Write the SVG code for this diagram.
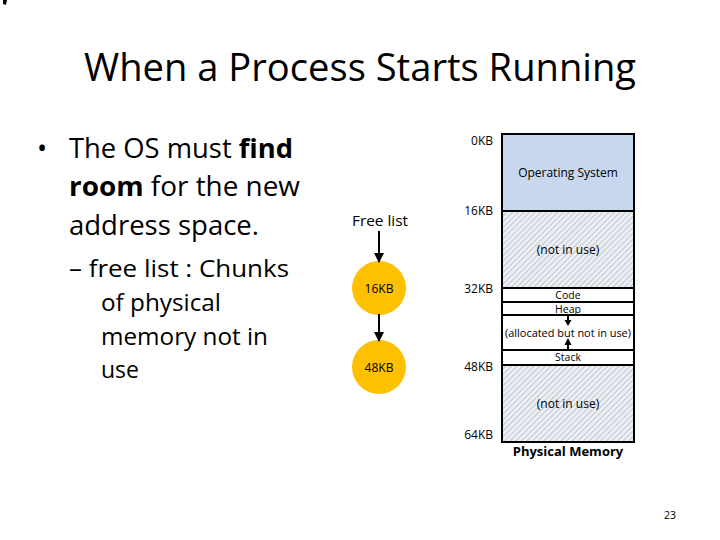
<svg xmlns="http://www.w3.org/2000/svg" width="720" height="540" viewBox="0 0 720 540">
<defs>
<pattern id="hatch" patternUnits="userSpaceOnUse" width="4" height="4" patternTransform="rotate(45)">
<rect width="4" height="4" fill="#eceff3"/>
<line x1="0" y1="0" x2="0" y2="4" stroke="#a9b2bc" stroke-width="1.3"/>
</pattern>
<marker id="ah" markerWidth="10" markerHeight="10" refX="9" refY="5" orient="auto" markerUnits="userSpaceOnUse" viewBox="0 0 10 10">
<path d="M0,0 L10,5 L0,10 Z" fill="#000"/>
</marker>
</defs>
<style>
.t{font-family:"Open Sans","Liberation Sans",sans-serif;fill:#000}
.s{font-family:"Open Sans","Liberation Sans",sans-serif;font-size:12px;fill:#000}
.m{font-family:"Open Sans","Liberation Sans",sans-serif;font-size:10.5px;fill:#000}
.node circle{fill:#ffc000}
</style>
<rect width="720" height="540" fill="#fff"/>
<path d="M3,0 L7,0 L6,5 L3,4 Z" fill="#000"/>
<text class="t" x="360" y="81" font-size="38" text-anchor="middle" textLength="552" lengthAdjust="spacingAndGlyphs">When a Process Starts Running</text>
<g id="bullets" class="t" font-size="27">
<text x="37" y="158">•</text>
<text x="69" y="158" textLength="224" lengthAdjust="spacingAndGlyphs">The OS must <tspan font-weight="bold">find</tspan></text>
<text x="69" y="196" textLength="231" lengthAdjust="spacingAndGlyphs"><tspan font-weight="bold">room</tspan> for the new</text>
<text x="69" y="235" textLength="190" lengthAdjust="spacingAndGlyphs">address space.</text>
</g>
<g id="subbullets" class="t" font-size="23">
<text x="69" y="277" textLength="220" lengthAdjust="spacingAndGlyphs">– free list : Chunks</text>
<text x="101" y="311" textLength="120" lengthAdjust="spacingAndGlyphs">of physical</text>
<text x="101" y="345" textLength="167" lengthAdjust="spacingAndGlyphs">memory not in</text>
<text x="101" y="378" textLength="38" lengthAdjust="spacingAndGlyphs">use</text>
</g>
<g id="freelist-label"><text class="t" x="380" y="226" font-size="14.5" text-anchor="middle" textLength="56" lengthAdjust="spacingAndGlyphs">Free list</text></g>
<g id="node-16kb" class="node"><circle cx="379" cy="288" r="27"/><text class="s" x="379" y="293" text-anchor="middle">16KB</text></g>
<g id="node-48kb" class="node"><circle cx="379" cy="367" r="27"/><text class="s" x="379" y="372" text-anchor="middle">48KB</text></g>
<g id="memory">
<rect x="502" y="211" width="132" height="231" fill="url(#hatch)"/>
<rect x="502" y="134" width="132" height="77" fill="#c6d7ee"/>
<rect x="502" y="288" width="132" height="77" fill="#fff"/>
<g stroke="#000" stroke-width="2" fill="none">
<rect x="502" y="134" width="132" height="308"/>
<line x1="502" y1="211" x2="634" y2="211"/>
<line x1="502" y1="288" x2="634" y2="288"/>
<line x1="502" y1="302" x2="634" y2="302"/>
<line x1="502" y1="315" x2="634" y2="315"/>
<line x1="502" y1="350" x2="634" y2="350"/>
<line x1="502" y1="365" x2="634" y2="365"/>
</g>
<text class="s" x="568" y="177" text-anchor="middle">Operating System</text>
<text class="s" x="568" y="254" text-anchor="middle">(not in use)</text>
<text class="m" x="568" y="299" text-anchor="middle">Code</text>
<text class="m" x="568" y="312.5" text-anchor="middle">Heap</text>
<text class="m" x="568" y="337" text-anchor="middle" textLength="126" lengthAdjust="spacingAndGlyphs">(allocated but not in use)</text>
<text class="m" x="568" y="361" text-anchor="middle">Stack</text>
<text class="s" x="568" y="408" text-anchor="middle">(not in use)</text>
<text class="t" x="568" y="456" font-size="13" font-weight="bold" text-anchor="middle">Physical Memory</text>
</g>
<g id="addresses" class="s" text-anchor="end">
<text x="493" y="145">0KB</text>
<text x="493" y="215">16KB</text>
<text x="493" y="293">32KB</text>
<text x="493" y="371">48KB</text>
<text x="493" y="439">64KB</text>
</g>
<g id="connectors">
<g stroke="#000" stroke-width="2" fill="none">
<line x1="379" y1="231" x2="379" y2="262" marker-end="url(#ah)"/>
<line x1="379" y1="314" x2="379" y2="341" marker-end="url(#ah)"/>
</g>
<line x1="568" y1="315" x2="568" y2="321" stroke="#000" stroke-width="2"/>
<path d="M564.5,320 L571.5,320 L568,326 Z" fill="#000"/>
<line x1="568" y1="344" x2="568" y2="350" stroke="#000" stroke-width="2"/>
<path d="M564.5,345 L571.5,345 L568,338 Z" fill="#000"/>
</g>
<text class="m" x="670" y="519" text-anchor="middle">23</text>
</svg>
